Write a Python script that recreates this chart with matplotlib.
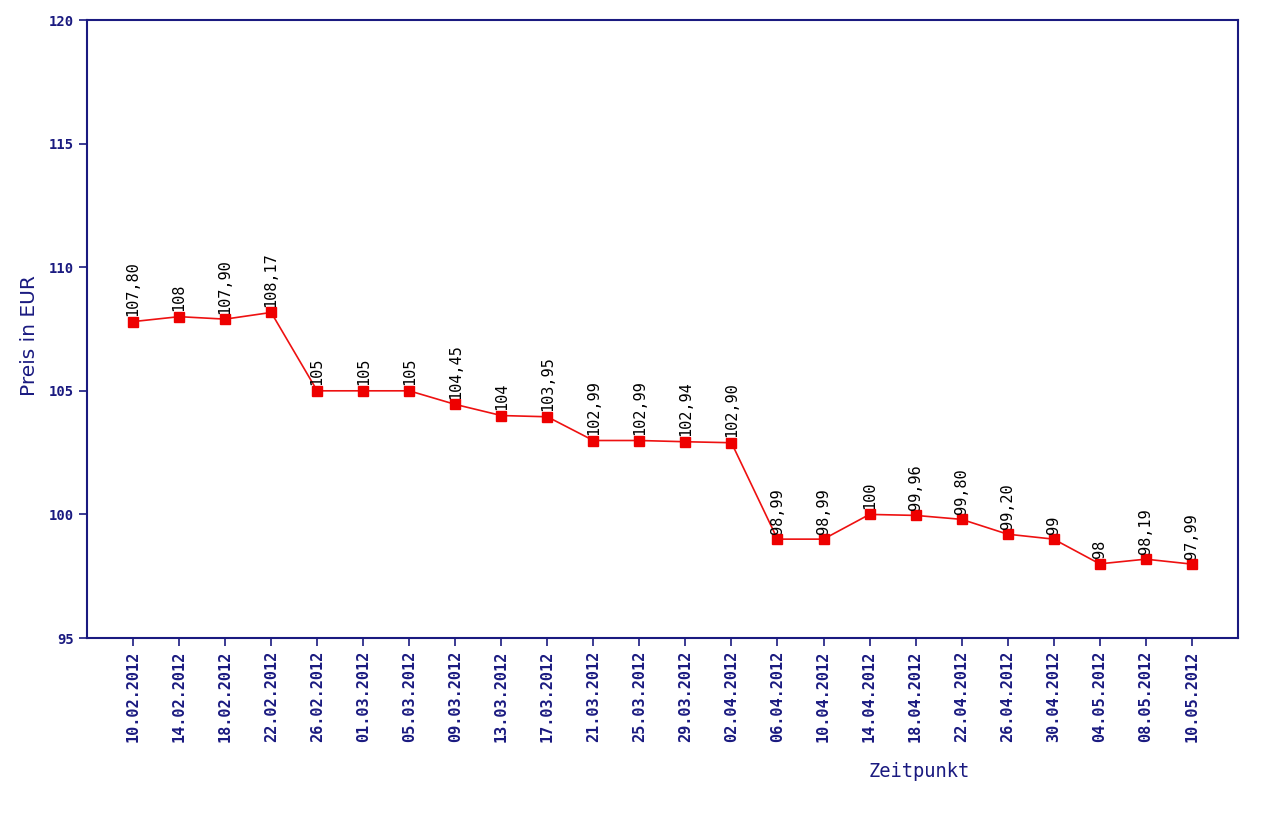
import matplotlib
matplotlib.use("Agg")
import matplotlib.pyplot as plt

dates = ["10.02.2012", "14.02.2012", "18.02.2012", "22.02.2012", "26.02.2012",
         "01.03.2012", "05.03.2012", "09.03.2012", "13.03.2012", "17.03.2012",
         "21.03.2012", "25.03.2012", "29.03.2012", "02.04.2012", "06.04.2012",
         "10.04.2012", "14.04.2012", "18.04.2012", "22.04.2012", "26.04.2012",
         "30.04.2012", "04.05.2012", "08.05.2012", "10.05.2012"]
prices = [107.80, 108, 107.90, 108.17, 105, 105, 105, 104.45, 104, 103.95,
          102.99, 102.99, 102.94, 102.90, 99.0, 99.0, 100, 99.96, 99.80, 99.20,
          99, 98, 98.19, 97.99]
labels = ["107,80", "108", "107,90", "108,17", "105", "105", "105", "104,45",
          "104", "103,95", "102,99", "102,99", "102,94", "102,90", "98,99",
          "98,99", "100", "99,96", "99,80", "99,20", "99", "98", "98,19", "97,99"]

navy = "#1a1a80"
mono = "DejaVu Sans Mono"

fig = plt.figure(figsize=(12.8, 8.14), dpi=100)
ax = fig.add_axes([0.068, 0.2162, 0.899, 0.7592])

x = list(range(len(prices)))
ax.plot(x, prices, color="#ee1111", linewidth=1.2, marker="s", markersize=7,
        markerfacecolor="#ee0000", markeredgecolor="#ee0000")

for xi, yi, lab in zip(x, prices, labels):
    ax.text(xi, yi + 0.22, lab, rotation=90, ha="center", va="bottom",
            fontsize=11, family=mono, color="black")

ax.set_xlim(-1, 24)
ax.set_ylim(95, 120)
ax.set_yticks([95, 100, 105, 110, 115, 120])
ax.set_xticks(x)
ax.set_xticklabels(dates, rotation=90, family=mono, fontsize=11,
                   color=navy, fontweight="bold")
for lab in ax.get_yticklabels():
    lab.set_family(mono)
    lab.set_fontweight("bold")
    lab.set_fontsize(10)
    lab.set_color(navy)

ax.tick_params(axis="both", direction="out", length=6, width=1.2, color=navy)
for sp in ax.spines.values():
    sp.set_color(navy)
    sp.set_linewidth(1.5)

ax.set_ylabel("Preis in EUR", fontsize=14.5, color=navy, family="DejaVu Sans")
ax.yaxis.set_label_coords(-0.042, 0.49)
ax.set_xlabel("Zeitpunkt", fontsize=13.5, color=navy, family=mono)
ax.xaxis.set_label_coords(0.723, -0.2)

fig.savefig("out.png", dpi=100)
